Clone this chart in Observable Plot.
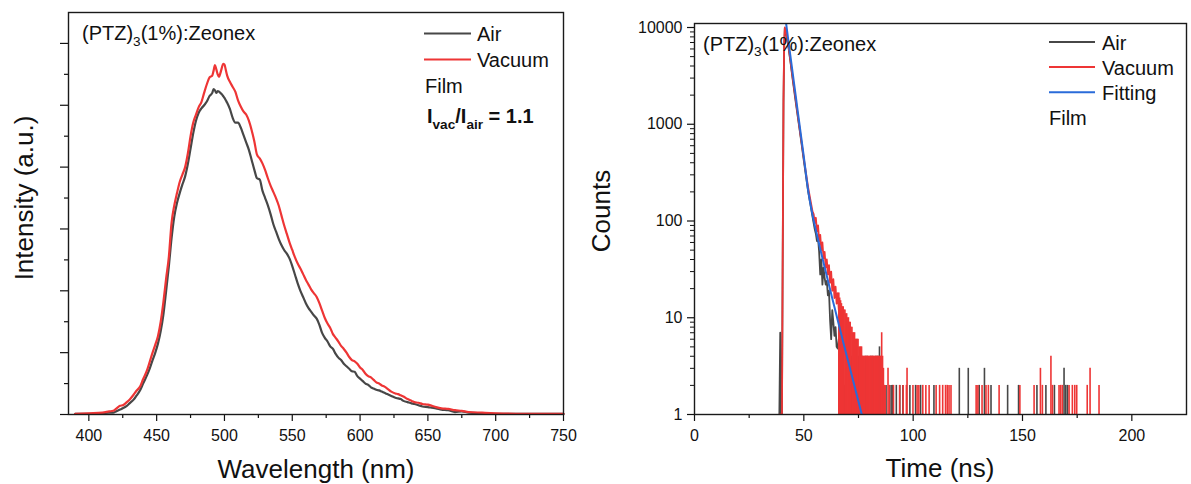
<!DOCTYPE html>
<html><head><meta charset="utf-8">
<script src="https://cdn.jsdelivr.net/npm/d3@7"></script>
<script src="https://cdn.jsdelivr.net/npm/@observablehq/plot@0.6"></script>
<style>
html,body{margin:0;padding:0;background:#fff;}
#wrap{position:relative;width:1191px;height:484px;overflow:hidden;background:#fff;}
#left,#right{position:absolute;top:0;}
#left{left:0;} #right{left:585px;}
svg text{white-space:pre;}
</style></head><body><div id="wrap"><div id="left"></div><div id="right"></div></div>
<script>
// ---------- Left panel: PL spectra ----------
const wavelength = [390,400,410,415,418,420,423,425,428,430,433,435,438,440,443,445,447,449,451,453,455,457,459,461,463,465,467,469,471,473,475,477,479,481,483,485,487,489,491,492,493,494,495,496,497,498,499,500,501,502,504,506,508,510,512,514,516,518,520,522,524,526,528,530,532,534,536,538,540,542,544,546,548,550,552,554,556,558,560,562,564,566,568,570,572,574,576,578,580,582,584,586,588,590,592,594,596,598,600,602,604,606,608,610,612,614,616,618,620,623,626,628,630,632,635,638,640,643,646,650,653,656,660,665,670,675,680,690,700,720,750];
const vacuumPL = [0.01,0.02,0.03,0.05,0.06,0.09,0.14,0.15,0.2,0.24,
0.32,0.38,0.46,0.57,0.72,0.86,1.0,1.13,1.27,1.5,
1.82,2.2,2.55,3.1,3.38,3.58,3.76,3.88,4.0,4.22,
4.5,4.72,4.85,4.97,5.05,5.2,5.34,5.45,5.48,5.56,
5.65,5.58,5.5,5.46,5.52,5.6,5.67,5.66,5.57,5.48,
5.38,5.3,5.22,5.08,4.98,4.9,4.85,4.75,4.6,4.42,
4.2,4.14,4.06,3.95,3.82,3.7,3.6,3.5,3.38,3.22,
3.06,2.92,2.78,2.66,2.54,2.44,2.36,2.27,2.18,2.1,
2.02,1.96,1.9,1.8,1.68,1.56,1.47,1.4,1.3,1.24,
1.18,1.11,1.06,1.0,0.93,0.88,0.86,0.82,0.76,0.72,
0.66,0.62,0.6,0.56,0.52,0.5,0.47,0.45,0.42,0.37,
0.34,0.33,0.31,0.29,0.25,0.22,0.2,0.19,0.17,0.16,
0.14,0.12,0.1,0.09,0.07,0.06,0.04,0.03,0.02,0.01,
0.01];
const airPL = [0.01,0.01,0.02,0.03,0.03,0.05,0.08,0.1,0.14,0.18,
0.24,0.3,0.4,0.5,0.64,0.75,0.88,1.0,1.15,1.35,
1.62,2.0,2.4,2.85,3.2,3.42,3.58,3.72,3.85,4.05,
4.3,4.55,4.75,4.88,4.95,5.0,5.06,5.15,5.2,5.26,
5.24,5.2,5.23,5.22,5.2,5.18,5.15,5.12,5.08,5.04,
4.94,4.8,4.72,4.72,4.64,4.52,4.4,4.28,4.12,3.96,
3.82,3.8,3.62,3.5,3.38,3.24,3.08,2.96,2.84,2.74,
2.66,2.6,2.52,2.4,2.26,2.12,2.0,1.9,1.8,1.72,
1.66,1.6,1.55,1.45,1.32,1.24,1.18,1.1,1.06,0.98,
0.92,0.88,0.82,0.78,0.74,0.7,0.69,0.62,0.58,0.54,
0.5,0.48,0.44,0.42,0.4,0.39,0.37,0.35,0.33,0.3,
0.27,0.26,0.25,0.22,0.2,0.18,0.17,0.15,0.13,0.12,
0.11,0.1,0.08,0.07,0.04,0.05,0.03,0.02,0.01,0.01,
0.01];
const wlTicks = [400,450,500,550,600,650,700,750];
const wlMinor = [425,475,525,575,625,675,725];
const intTicks = [0,1,2,3,4,5,6];
const intMinor = [0.5,1.5,2.5,3.5,4.5,5.5];

// ---------- Right panel: decay (TCSPC) ----------
const airDecayT = [38.8,39.2,39.5,40.0,40.3,40.7,41.0,41.3,41.7,42.2,43,44,45,46,47,48,49,50,51,52,53,54,55,55.5,56,56.5,57,57.5,58,58.5,59,59.5,60,60.5,61,61.5,62,62.5,63,63.5,64,64.5,65,65.5,66];
const airDecayC = [1,7,1,1,30,1700,6300,9800,9200,8000,6200,4200,2800,1900,1300,900,620,420,290,200,150,110,82,74,62,66,48,28,40,22,33,26,22,24,17,19,9.5,6,12,9,6.5,8,5,4.8,6];
const vacDecayT = [39.0,40.0,40.3,40.7,41.0,41.3,41.7,42.2,43,44,45,46,47,48,49,50,51,52,53,54,54.5,55,55.5,56,56.5,57,57.5,58,58.5,59,59.5,60,60.5,61,61.5,62,62.5,63,63.5,64,64.5,65,65.5,66];
const vacDecayC = [1,1,30,1800,6500,10000,9400,8200,6400,4300,2900,2000,1360,930,640,440,310,220,165,125,118,95,108,78,90,62,72,50,60,41,48,33,40,28,35,23,30,19,25,16,21,14,18,12];
const fitT = [41.9,43,44,45,46,47,48,50,52,54,56,60,64,68,72,76.5];
const fitC = [11000,7100,4800,3250,2200,1480,1000,460,205,115,72,30,12.9,5.6,2.5,1];
// sparse channels (noisy tail), count per channel
const airSpikeT = [66.2,67.0,67.8,68.6,69.4,70.2,71.0,71.8,72.6,73.4,74.2,75.0,75.8,76.6,77.4,78.2,79.0,79.8,80.6,81.4,82.2,83.0,83.8,84.6,85.4,86.2,
87.6,89.9,90.5,92.3,93.9,95.3,98.5,101.1,103.4,109.5,121.1,125.2,130.2,132.6,135.6,143.2,148.2,156.6,160.7,164.6,169.0,169.8,170.6];
const airSpikeC = [5,4,3,2,3,2,2,4,3,2,4,4,3,4,3,4,4,3,4,4,3,4,4,5,3,2,
2,2,2,2,2,2,2,2,2,2,3,3,2,3,2,2,2,2,2,2,3,2,2];
const vacSpikeT = [66.0,66.4,66.8,67.2,67.6,68.0,68.4,68.8,69.2,69.6,70.0,70.4,70.8,71.2,71.6,72.0,72.4,72.8,73.2,73.6,74.0,74.4,74.8,75.2,75.6,76.0,76.4,76.8,77.2,77.6,78.0,78.4,78.8,79.2,79.6,80.0,80.4,80.8,81.2,81.6,82.0,82.4,82.8,83.2,83.6,84.0,84.4,84.8,85.2,85.6,86.0,86.4,86.8,
87.2,88.5,89.1,91.0,93.8,95.4,96.9,97.2,99.9,101.8,102.6,104.4,105.8,107.3,110.5,112.1,113.5,114.8,115.6,116.4,117.3,128.8,129.6,131.5,133.3,134.4,139.3,148.8,155.3,158.2,159.1,163.0,163.7,166.7,167.4,168.2,171.3,172.8,173.9,174.8,179.6,180.9,185.0];
const vacSpikeC = [18,16,15,14,13,13,12,12,11,11,10,10,9,9,8,8,7,7,7,6,6,6,6,5,5,5,5,4,4,4,4,4,4,4,4,4,4,4,4,4,4,4,4,4,4,4,4,4,4,7,4,3,2,
2,3,2,2,2,2,2,3,2,2,2,2,2,2,2,2,2,2,2,2,2,2,2,2,2,2,2,2,2,3,2,4,2,2,2,2,2,2,2,2,2,3,2];
const timeTicks = [0,50,100,150,200];
const timeMinor = [25,75,125,175];
const countTicks = [1,10,100,1000,10000];
const countMinor = [1,10,100,1000].flatMap(d => [2,3,4,5,6,7,8,9].map(k => k*d));

const seriesNames = ["Air","Vacuum","Fitting"];
const colors = {Air:"#474747", Vacuum:"#ee3535", Fitting:"#2a6bd9"};
const FONT = "'Liberation Sans', Arial, sans-serif";
const INK = "#111";

const spikes = (T, C) => T.map((t, i) => ({t, c: C[i], base: 1}));

// ---------- build left plot ----------
const left = Plot.plot({
  width: 585, height: 484,
  marginLeft: 68, marginRight: 22, marginTop: 12, marginBottom: 70,
  style: {fontFamily: FONT, fontSize: "16px", color: INK, background: "transparent", overflow: "visible"},
  x: {domain: [385, 750]},
  y: {domain: [0, 6.5]},
  marks: [
    Plot.line(wavelength, {x: wavelength, y: airPL, stroke: colors.Air, strokeWidth: 2.2, curve: "monotone-x"}),
    Plot.line(wavelength, {x: wavelength, y: vacuumPL, stroke: colors.Vacuum, strokeWidth: 2.2, curve: "monotone-x"}),
    Plot.axisX(wlTicks, {tickSize: 7, tickPadding: 8, fontSize: 16, label: null, strokeWidth: 1.2, stroke: INK}),
    Plot.axisX(wlMinor, {tickSize: 4, tickFormat: () => "", label: null, strokeWidth: 1.2, stroke: INK}),
    Plot.axisY(intTicks, {tickSize: 8, tickFormat: () => "", label: null, strokeWidth: 1.2, stroke: INK}),
    Plot.axisY(intMinor, {tickSize: 4, tickFormat: () => "", label: null, strokeWidth: 1.2, stroke: INK}),
    Plot.frame({stroke: "#1a1a1a", strokeWidth: 1.4})
  ]
});

// ---------- build right plot ----------
const right = Plot.plot({
  width: 606, height: 484,
  marginLeft: 109, marginRight: 5, marginTop: 23, marginBottom: 70,
  style: {fontFamily: FONT, fontSize: "16px", color: INK, background: "transparent", overflow: "visible"},
  x: {domain: [0, 225]},
  y: {type: "log", domain: [1, 11000]},
  marks: [
    Plot.ruleX(spikes(airSpikeT, airSpikeC), {x: "t", y1: "base", y2: "c", stroke: colors.Air, strokeWidth: 1.6}),
    Plot.line(airDecayT, {x: airDecayT, y: airDecayC, stroke: colors.Air, strokeWidth: 1.8, clip: true}),
    Plot.ruleX(spikes(vacSpikeT, vacSpikeC), {x: "t", y1: "base", y2: "c", stroke: colors.Vacuum, strokeWidth: 1.6}),
    Plot.line(vacDecayT, {x: vacDecayT, y: vacDecayC, stroke: colors.Vacuum, strokeWidth: 1.8, clip: true}),
    Plot.line(fitT, {x: fitT, y: fitC, stroke: colors.Fitting, strokeWidth: 2, curve: "monotone-x", clip: true}),
    Plot.axisX(timeTicks, {tickSize: 7, tickPadding: 8, fontSize: 16, label: null, strokeWidth: 1.2, stroke: INK}),
    Plot.axisX(timeMinor, {tickSize: 4, tickFormat: () => "", label: null, strokeWidth: 1.2, stroke: INK}),
    Plot.axisY(countTicks, {tickSize: 7, tickPadding: 5, fontSize: 16, tickFormat: d => String(d), label: null, strokeWidth: 1.2, stroke: INK}),
    Plot.axisY(countMinor, {tickSize: 4, tickFormat: () => "", label: null, strokeWidth: 1, stroke: INK}),
    Plot.frame({stroke: "#1a1a1a", strokeWidth: 1.4})
  ]
});

document.getElementById("left").appendChild(left);
document.getElementById("right").appendChild(right);

// ---------- annotations, legends, axis titles ----------
function addText(svg, x, y, parts, o) {
  const t = d3.select(svg).append("text").attr("x", x).attr("y", y)
    .attr("font-family", FONT).attr("font-size", o.size)
    .attr("font-weight", o.weight || "normal").attr("fill", INK)
    .attr("text-anchor", o.anchor || "start");
  if (o.baseline) t.attr("dominant-baseline", o.baseline);
  if (o.rotate) t.attr("transform", `rotate(-90 ${x} ${y})`);
  let shift = 0;
  for (const p of parts) {
    const s = t.append("tspan").text(p[0]);
    const want = p[1] ? o.size * 0.28 : 0;
    if (want !== shift) { s.attr("dy", want - shift); shift = want; }
    if (p[1]) s.attr("font-size", o.size * 0.68);
  }
  return t;
}
function legendLine(svg, x1, x2, y, color) {
  d3.select(svg).append("line").attr("x1", x1).attr("x2", x2).attr("y1", y).attr("y2", y)
    .attr("stroke", color).attr("stroke-width", 2);
}
const sampleParts = [["(PTZ)"], ["3", 1], ["(1%):Zeonex"]];

// left
addText(left, 82, 40, sampleParts, {size: 20});
legendLine(left, 424, 471, 33.5, colors.Air);
addText(left, 477, 34, [[seriesNames[0]]], {size: 20, baseline: "central"});
legendLine(left, 424, 471, 59.5, colors.Vacuum);
addText(left, 477, 60, [[seriesNames[1]]], {size: 20, baseline: "central"});
addText(left, 425, 86, [["Film"]], {size: 20, baseline: "central"});
addText(left, 427, 123, [["I"], ["vac", 1], ["/I"], ["air", 1], [" = 1.1"]], {size: 20, weight: "bold"});
addText(left, 24, 198, [["Intensity (a.u.)"]], {size: 26, anchor: "middle", baseline: "central", rotate: true});
addText(left, 316, 469, [["Wavelength (nm)"]], {size: 26, anchor: "middle", baseline: "central"});

// right
addText(right, 118, 50.5, sampleParts, {size: 20});
legendLine(right, 464, 510, 42, colors.Air);
addText(right, 517, 42.5, [[seriesNames[0]]], {size: 20, baseline: "central"});
legendLine(right, 464, 510, 67, colors.Vacuum);
addText(right, 517, 67.5, [[seriesNames[1]]], {size: 20, baseline: "central"});
legendLine(right, 464, 510, 92.3, colors.Fitting);
addText(right, 517, 93, [[seriesNames[2]]], {size: 20, baseline: "central"});
addText(right, 464, 117.5, [["Film"]], {size: 20, baseline: "central"});
addText(right, 15.5, 211, [["Counts"]], {size: 26, anchor: "middle", baseline: "central", rotate: true});
addText(right, 355, 468, [["Time (ns)"]], {size: 26, anchor: "middle", baseline: "central"});
</script>
</body></html>
